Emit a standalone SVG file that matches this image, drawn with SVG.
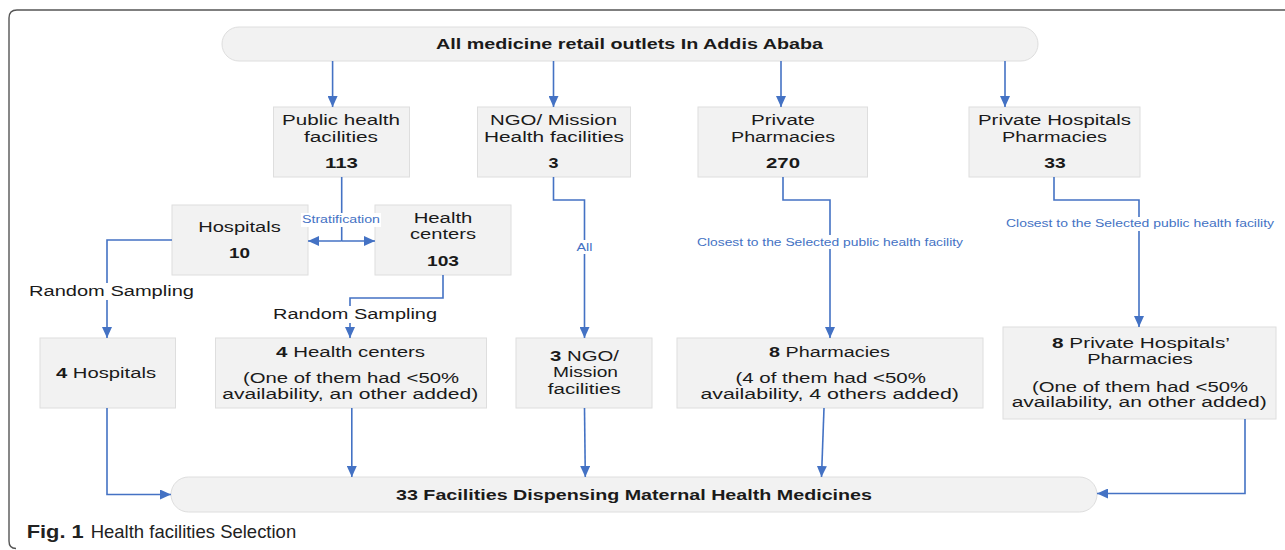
<svg xmlns="http://www.w3.org/2000/svg" width="1285" height="550" viewBox="0 0 1285 550">
<defs>
<style>
.box{fill:#f2f2f2;stroke:#dedede;stroke-width:1}
.t{font-family:"Liberation Sans",Arial,sans-serif;font-size:14px;fill:#1a1a1a;text-anchor:middle}
.b{font-weight:bold}
.ttl{font-family:"Liberation Sans",Arial,sans-serif;font-size:15px;font-weight:bold;fill:#1a1a1a;text-anchor:middle}
.lbl{font-family:"Liberation Sans",Arial,sans-serif;font-size:10px;fill:#4472c4;text-anchor:middle}
.c{fill:none;stroke:#4472c4;stroke-width:1.6}
.a{marker-end:url(#ah)}
.bg{fill:#ffffff}
.cap{font-family:"Liberation Sans",Arial,sans-serif;font-size:18.5px;fill:#222}
</style>
<marker id="ah" markerUnits="userSpaceOnUse" markerWidth="12" markerHeight="10" refX="11" refY="5" orient="auto-start-reverse" viewBox="0 0 12 10">
<path d="M0,0 L11,5 L0,10 z" fill="#4472c4"/>
</marker>
</defs>
<rect x="0" y="0" width="1285" height="550" fill="#ffffff"/>
<path d="M16,548.5 Q9,548.5 9,541 L9,18 Q9,10 17,10 L1285,10" fill="none" stroke="#555" stroke-width="1.4"/>

<g id="top">
<rect class="box" x="222" y="27" width="816" height="34" rx="17" ry="17"/>
<text class="ttl" x="629.5" y="49" textLength="387" lengthAdjust="spacingAndGlyphs">All medicine retail outlets In Addis Ababa</text>
</g>

<g id="public">
<rect class="box" x="273.5" y="107" width="136" height="70"/>
<text class="t" x="341" y="125" textLength="118" lengthAdjust="spacingAndGlyphs">Public health</text>
<text class="t" x="341" y="141.7" textLength="74" lengthAdjust="spacingAndGlyphs">facilities</text>
<text class="t b" x="341.5" y="168" textLength="33" lengthAdjust="spacingAndGlyphs">113</text>
</g>

<g id="ngo">
<rect class="box" x="477.5" y="107" width="153" height="70"/>
<text class="t" x="553.5" y="125" textLength="127" lengthAdjust="spacingAndGlyphs">NGO/ Mission</text>
<text class="t" x="554" y="141.7" textLength="140" lengthAdjust="spacingAndGlyphs">Health facilities</text>
<text class="t b" x="553.5" y="168" textLength="10" lengthAdjust="spacingAndGlyphs">3</text>
</g>

<g id="privpharm">
<rect class="box" x="698" y="107" width="169.5" height="70"/>
<text class="t" x="783" y="125" textLength="64" lengthAdjust="spacingAndGlyphs">Private</text>
<text class="t" x="783" y="141.7" textLength="104" lengthAdjust="spacingAndGlyphs">Pharmacies</text>
<text class="t b" x="783" y="168" textLength="34" lengthAdjust="spacingAndGlyphs">270</text>
</g>

<g id="privhosp">
<rect class="box" x="969" y="107" width="171" height="70"/>
<text class="t" x="1054.5" y="125" textLength="153" lengthAdjust="spacingAndGlyphs">Private Hospitals</text>
<text class="t" x="1054.5" y="141.7" textLength="105" lengthAdjust="spacingAndGlyphs">Pharmacies</text>
<text class="t b" x="1055" y="168" textLength="21.5" lengthAdjust="spacingAndGlyphs">33</text>
</g>

<g id="hospitals">
<rect class="box" x="172" y="205" width="136" height="70"/>
<text class="t" x="239.5" y="231.7" textLength="82.7" lengthAdjust="spacingAndGlyphs">Hospitals</text>
<text class="t b" x="239.5" y="258.3" textLength="21" lengthAdjust="spacingAndGlyphs">10</text>
</g>

<g id="healthcenters">
<rect class="box" x="375" y="205" width="136" height="70"/>
<text class="t" x="443" y="223.3" textLength="58.7" lengthAdjust="spacingAndGlyphs">Health</text>
<text class="t" x="443" y="239" textLength="66" lengthAdjust="spacingAndGlyphs">centers</text>
<text class="t b" x="443" y="266" textLength="32" lengthAdjust="spacingAndGlyphs">103</text>
</g>

<g id="hosp4">
<rect class="box" x="40" y="338" width="135.5" height="70"/>
<text class="t" x="106" y="378" textLength="100" lengthAdjust="spacingAndGlyphs"><tspan class="b">4</tspan> Hospitals</text>
</g>

<g id="hc4">
<rect class="box" x="215.5" y="338" width="271" height="70"/>
<text class="t" x="350.6" y="356.7" textLength="149" lengthAdjust="spacingAndGlyphs"><tspan class="b">4</tspan> Health centers</text>
<text class="t" x="351" y="383" textLength="216" lengthAdjust="spacingAndGlyphs">(One of them had &lt;50%</text>
<text class="t" x="350.2" y="399" textLength="256" lengthAdjust="spacingAndGlyphs">availability, an other added)</text>
</g>

<g id="ngo3">
<rect class="box" x="516" y="338" width="136" height="70"/>
<text class="t" x="584.5" y="361" textLength="69" lengthAdjust="spacingAndGlyphs"><tspan class="b">3</tspan> NGO/</text>
<text class="t" x="585.5" y="377" textLength="65" lengthAdjust="spacingAndGlyphs">Mission</text>
<text class="t" x="584.3" y="394" textLength="73" lengthAdjust="spacingAndGlyphs">facilities</text>
</g>

<g id="pharm8">
<rect class="box" x="677" y="338" width="306" height="70"/>
<text class="t" x="829.5" y="356.7" textLength="121" lengthAdjust="spacingAndGlyphs"><tspan class="b">8</tspan> Pharmacies</text>
<text class="t" x="830.7" y="383" textLength="190.5" lengthAdjust="spacingAndGlyphs">(4 of them had &lt;50%</text>
<text class="t" x="829.7" y="399" textLength="258.5" lengthAdjust="spacingAndGlyphs">availability,  4 others added)</text>
</g>

<g id="privhosp8">
<rect class="box" x="1003" y="327" width="273" height="92"/>
<text class="t" x="1141" y="348" textLength="178" lengthAdjust="spacingAndGlyphs"><tspan class="b">8</tspan> Private Hospitals’</text>
<text class="t" x="1140" y="364.3" textLength="105.7" lengthAdjust="spacingAndGlyphs">Pharmacies</text>
<text class="t" x="1140" y="391.7" textLength="216" lengthAdjust="spacingAndGlyphs">(One of them had &lt;50%</text>
<text class="t" x="1139.2" y="407" textLength="255" lengthAdjust="spacingAndGlyphs">availability, an other added)</text>
</g>

<g id="bottom">
<rect class="box" x="171" y="477" width="926" height="35" rx="17.5" ry="17.5"/>
<text class="ttl" x="634" y="500" textLength="476" lengthAdjust="spacingAndGlyphs">33 Facilities Dispensing Maternal Health Medicines</text>
</g>

<g id="connectors">
<path class="c a" d="M332.6,61 V107"/>
<path class="c a" d="M553.5,61 V107"/>
<path class="c a" d="M781,61 V107"/>
<path class="c a" d="M1005,61 V107"/>
<path class="c" d="M341.7,177 V241"/>
<path class="c a" d="M341.7,241 H308" />
<path class="c a" d="M341.7,241 H375" />
<path class="c a" d="M172,240 H107 V338"/>
<path class="c a" d="M443,275 V298 H350 V338"/>
<path class="c a" d="M553.5,177 V200 H584.5 V338"/>
<path class="c a" d="M783,177 V200 H830 V338"/>
<path class="c a" d="M1054,177 V200 H1139 V327"/>
<path class="c a" d="M107,408 V494.5 H171"/>
<path class="c a" d="M351.8,408 V477"/>
<path class="c a" d="M584.5,408 L585.3,477"/>
<path class="c a" d="M824,408 L821.5,477"/>
<path class="c a" d="M1245,419 V493.5 H1097"/>
<rect class="bg" x="301" y="213" width="80" height="14"/>
<text class="lbl" x="341" y="223.3" textLength="78" lengthAdjust="spacingAndGlyphs">Stratification</text>
<rect class="bg" x="575" y="240" width="19" height="14"/>
<text class="lbl" x="584.5" y="251" textLength="16" lengthAdjust="spacingAndGlyphs">All</text>
<rect class="bg" x="696" y="235" width="268" height="14"/>
<text class="lbl" x="830" y="245.7" textLength="266" lengthAdjust="spacingAndGlyphs">Closest to the Selected public health facility</text>
<rect class="bg" x="1005" y="217" width="270" height="14"/>
<text class="lbl" x="1140" y="227.3" textLength="268" lengthAdjust="spacingAndGlyphs">Closest to the Selected public health facility</text>
<rect class="bg" x="28" y="283" width="167" height="17"/>
<text class="t" x="111.5" y="296" textLength="165" lengthAdjust="spacingAndGlyphs">Random Sampling</text>
<rect class="bg" x="272" y="306" width="166" height="17"/>
<text class="t" x="355" y="319" textLength="164" lengthAdjust="spacingAndGlyphs">Random Sampling</text>
</g>

<g id="caption">
<text class="cap" x="26.7" y="538" font-weight="bold" textLength="57" lengthAdjust="spacingAndGlyphs">Fig. 1</text>
<text class="cap" x="90.7" y="538" textLength="205.5" lengthAdjust="spacingAndGlyphs">Health facilities Selection</text>
</g>
</svg>
